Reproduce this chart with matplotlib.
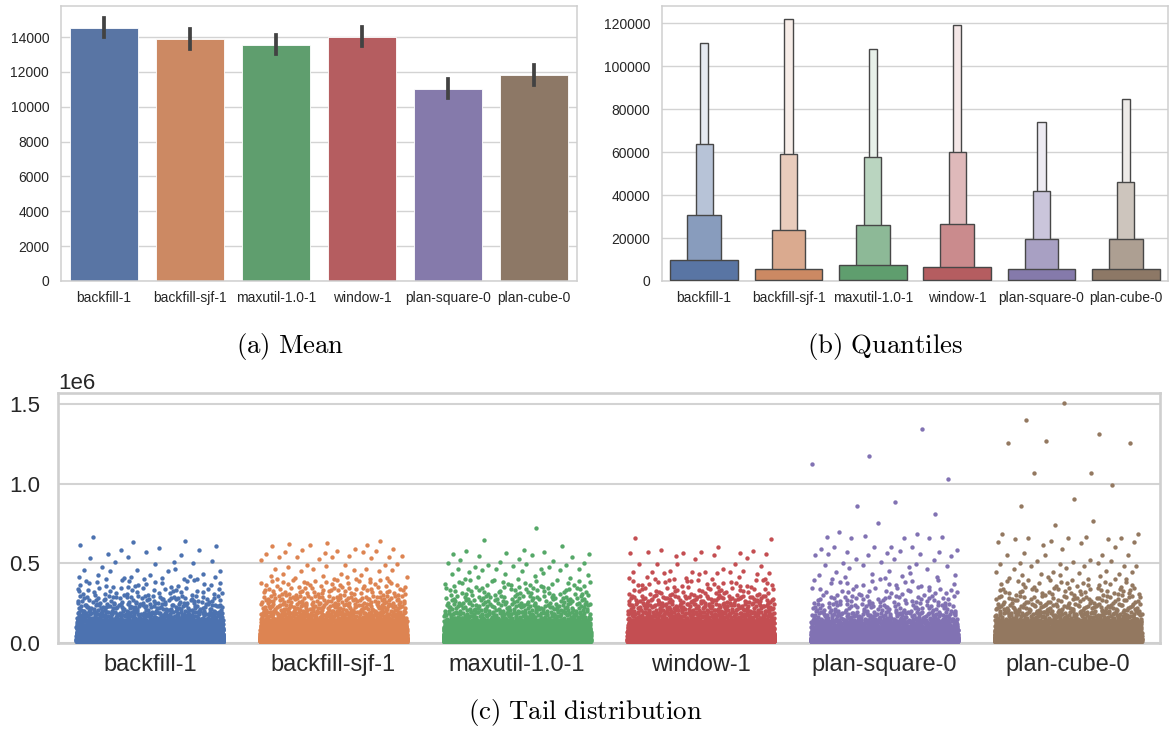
import numpy as np
import matplotlib
matplotlib.use("Agg")
import matplotlib.pyplot as plt
from matplotlib.patches import Rectangle
import seaborn as sns

# ---------------------------------------------------------------- data
categories = ["backfill-1", "backfill-sjf-1", "maxutil-1.0-1",
              "window-1", "plan-square-0", "plan-cube-0"]

# (a) mean waiting time with 95% confidence interval
mean_values = [14500, 13860, 13520, 14000, 11030, 11800]
ci_low = [14020, 13290, 13040, 13480, 10500, 11240]
ci_high = [15070, 14470, 14110, 14590, 11600, 12410]

# (b) letter values: lower / upper ends of each box, innermost box first
lower_q25 = [400, 300, 350, 320, 300, 300]
lower_q125 = [150, 120, 130, 120, 110, 110]
lower_q0625 = [60, 50, 55, 50, 45, 45]
lower_q03125 = [30, 25, 25, 25, 20, 20]
upper_q75 = [9600, 5700, 7300, 6700, 5700, 5700]
upper_q875 = [30700, 23800, 25900, 26700, 19700, 19400]
upper_q9375 = [63700, 59300, 57800, 60100, 41800, 46100]
upper_q96875 = [111000, 121900, 107900, 119100, 74200, 84800]

# (c) tail: histogram of the body above the 75th percentile ...
body_edges = [8e3, 30e3, 60e3, 100e3, 150e3, 200e3, 250e3, 300e3, 350e3, 400e3]
body_backfill_1 = [3000, 1600, 750, 360, 170, 100, 60, 32, 20]
body_backfill_sjf_1 = [3000, 1500, 700, 350, 180, 110, 75, 45, 30]
body_maxutil_1_0_1 = [3000, 1500, 700, 340, 155, 90, 60, 38, 25]
body_window_1 = [3000, 1500, 750, 370, 185, 120, 80, 40, 25]
body_plan_square_0 = [2800, 1300, 550, 260, 115, 60, 40, 25, 16]
body_plan_cube_0 = [2800, 1400, 600, 290, 135, 85, 52, 35, 22]

# ... and the individual extreme values (thousands) above 400k
tail_backfill_1 = [665, 641, 635, 616, 608, 595, 585, 581, 574, 560, 553, 539,
                   532, 518, 511, 507, 505, 495, 476, 463, 459, 459, 455, 455,
                   453, 432, 426, 426, 421, 417, 415, 413, 410, 408, 405, 405,
                   403, 401]
tail_backfill_sjf_1 = [640, 631, 623, 618, 614, 610, 589, 589, 583, 579, 577,
                       572, 570, 564, 558, 549, 545, 543, 541, 539, 537, 535,
                       528, 522, 497, 489, 489, 489, 486, 476, 465, 465, 463,
                       459, 459, 453, 453, 432, 432, 425, 420, 418, 415, 412,
                       410, 408, 405, 403, 401]
tail_maxutil_1_0_1 = [725, 648, 608, 587, 579, 570, 568, 560, 558, 555, 549,
                      539, 530, 520, 514, 511, 505, 501, 497, 490, 489, 486,
                      480, 476, 465, 464, 464, 463, 461, 458, 455, 445, 440,
                      436, 432, 425, 420, 415, 410, 405, 402]
tail_window_1 = [660, 652, 606, 581, 579, 572, 570, 568, 566, 564, 558, 555,
                 545, 532, 526, 499, 499, 499, 497, 484, 467, 455, 453, 448,
                 447, 445, 445, 443, 442, 440, 438, 436, 432, 415, 412, 410,
                 408, 405, 403, 400]
tail_plan_square_0 = [1344, 1172, 1124, 1027, 885, 860, 809, 753, 698, 683,
                      671, 667, 663, 662, 658, 658, 605, 600, 600, 600, 590,
                      585, 575, 570, 570, 564, 560, 558, 555, 553, 545, 530,
                      528, 520, 510, 503, 495, 490, 487, 486, 480, 470, 462,
                      453, 448, 440, 436, 430, 425, 420, 415, 412, 408, 404]
tail_plan_cube_0 = [1509, 1402, 1310, 1268, 1256, 1256, 1069, 1067, 994, 904,
                    862, 765, 742, 686, 686, 667, 662, 660, 658, 655, 650, 641,
                    637, 637, 631, 614, 602, 591, 566, 555, 553, 553, 553, 524,
                    518, 514, 508, 503, 500, 498, 495, 486, 485, 483, 481, 470,
                    462, 455, 447, 447, 444, 440, 436, 432, 428, 425, 420, 415,
                    410, 405, 402]

body_counts = [body_backfill_1, body_backfill_sjf_1, body_maxutil_1_0_1,
               body_window_1, body_plan_square_0, body_plan_cube_0]
tail_values = [tail_backfill_1, tail_backfill_sjf_1, tail_maxutil_1_0_1,
               tail_window_1, tail_plan_square_0, tail_plan_cube_0]

# ---------------------------------------------------------------- style
plt.rcParams["font.family"] = ["Liberation Sans", "DejaVu Sans"]
plt.rcParams["mathtext.fontset"] = "cm"
TEXT = "#262626"
FRAME = "#cfcfcf"
GRID = "#d3d3d3"

deep = sns.color_palette("deep", 6)
muted = [sns.desaturate(c, 0.75) for c in deep]

fig = plt.figure(figsize=(11.72, 7.31), dpi=100)
W, H = 1172.0, 731.0


def px_axes(left, top, right, bottom):
    return fig.add_axes([left / W, 1 - bottom / H, (right - left) / W,
                         (bottom - top) / H])


def style_axes(ax, frame_lw, grid_lw, ysize, xsize, ypad, xpad):
    for s in ax.spines.values():
        s.set_color(FRAME)
        s.set_linewidth(frame_lw)
    ax.set_axisbelow(True)
    ax.yaxis.grid(True, color=GRID, linewidth=grid_lw)
    ax.xaxis.grid(False)
    ax.tick_params(axis="both", length=0, labelcolor=TEXT)
    ax.tick_params(axis="y", pad=ypad, labelsize=ysize)
    ax.tick_params(axis="x", pad=xpad, labelsize=xsize)
    ax.set_facecolor("white")


def radical_inverse(idx, base):
    """Van der Corput radical inverse, used for the strip jitter layout."""
    idx = np.asarray(idx, dtype=np.int64).copy()
    out = np.zeros(idx.shape, dtype=float)
    f = 1.0
    while np.any(idx > 0):
        f /= base
        out += f * (idx % base)
        idx //= base
    return out


pos = np.arange(len(categories))

# ---------------------------------------------------------------- (a) mean
ax_a = px_axes(61, 6, 577, 281)
ax_a.bar(pos, mean_values, width=0.8, color=muted, edgecolor="white",
         linewidth=0.6, zorder=2)
for i in range(len(categories)):
    ax_a.plot([pos[i], pos[i]], [ci_low[i], ci_high[i]], color="#424242",
              linewidth=2.7, zorder=3)
ax_a.set_xlim(-0.5, len(categories) - 0.5)
ax_a.set_ylim(0, 15780)
ax_a.set_yticks(np.arange(0, 14001, 2000))
ax_a.set_xticks(pos)
ax_a.set_xticklabels(categories)
style_axes(ax_a, 1.1, 1.0, 10, 10, 8.5, 7)

# ---------------------------------------------------------------- (b) quantiles
ax_b = px_axes(662, 6, 1168, 281)
levels = [
    (lower_q03125, upper_q96875, 0.1),
    (lower_q0625, upper_q9375, 0.2),
    (lower_q125, upper_q875, 0.4),
    (lower_q25, upper_q75, 0.8),
]
white = np.array([1.0, 1.0, 1.0])
for i in range(len(categories)):
    base = np.array(muted[i])
    light = base + 0.85 * (white - base)
    n = len(levels)
    for j, (lo, hi, w) in enumerate(levels):
        t = j / (n - 1)            # 0 = outermost (lightest), 1 = innermost
        col = light + t * (base - light)
        ax_b.add_patch(Rectangle((pos[i] - w / 2, lo[i]), w, hi[i] - lo[i],
                                 facecolor=col, edgecolor="#474747",
                                 linewidth=1.0, zorder=2 + j))
ax_b.set_xlim(-0.5, len(categories) - 0.5)
ax_b.set_ylim(0, 128000)
ax_b.set_yticks(np.arange(0, 120001, 20000))
ax_b.set_xticks(pos)
ax_b.set_xticklabels(categories)
style_axes(ax_b, 1.1, 1.0, 10, 10, 8.5, 7)

# ---------------------------------------------------------------- (c) tail
ax_c = px_axes(58, 393, 1160, 643)
jitter = 0.4
for i in range(len(categories)):
    xs, ys = [], []
    start = 1 + 5003 * i
    for b, cnt in enumerate(body_counts[i]):
        idx = np.arange(start, start + cnt)
        u = radical_inverse(idx, 3)
        v = radical_inverse(idx, 2)
        lo, hi = body_edges[b], body_edges[b + 1]
        xs.append(pos[i] + (u - 0.5) * 2 * jitter)
        ys.append(lo + v * (hi - lo))
        start += cnt + 97
    tv = np.array(tail_values[i], dtype=float) * 1000.0
    k = np.arange(len(tv))
    u = radical_inverse(k * 17 + 3 + 11 * i, 3)
    xs.append(pos[i] + (u - 0.5) * 2 * jitter)
    ys.append(tv)
    ax_c.scatter(np.concatenate(xs), np.concatenate(ys), s=10,
                 color=deep[i], linewidths=0, zorder=3)
ax_c.set_xlim(-0.5, len(categories) - 0.5)
ax_c.set_ylim(0, 1.57e6)
ax_c.set_yticks([0, 0.5e6, 1.0e6, 1.5e6])
ax_c.set_xticks(pos)
ax_c.set_xticklabels(categories)
style_axes(ax_c, 1.9, 1.5, 16, 17, 13, 8)
ax_c.yaxis.get_offset_text().set_fontsize(16)
ax_c.yaxis.get_offset_text().set_color(TEXT)

# ---------------------------------------------------------------- captions
fig.text(290 / W, 1 - 346 / H, r"$\mathrm{(a)\ Mean}$", ha="center",
         va="center", fontsize=19.3, color="black")
fig.text(885 / W, 1 - 346 / H, r"$\mathrm{(b)\ Quantiles}$", ha="center",
         va="center", fontsize=19.3, color="black")
fig.text(585 / W, 1 - 713 / H, r"$\mathrm{(c)\ Tail\ distribution}$",
         ha="center", va="center", fontsize=19.3, color="black")

fig.savefig("out.png", dpi=100, facecolor="white")
